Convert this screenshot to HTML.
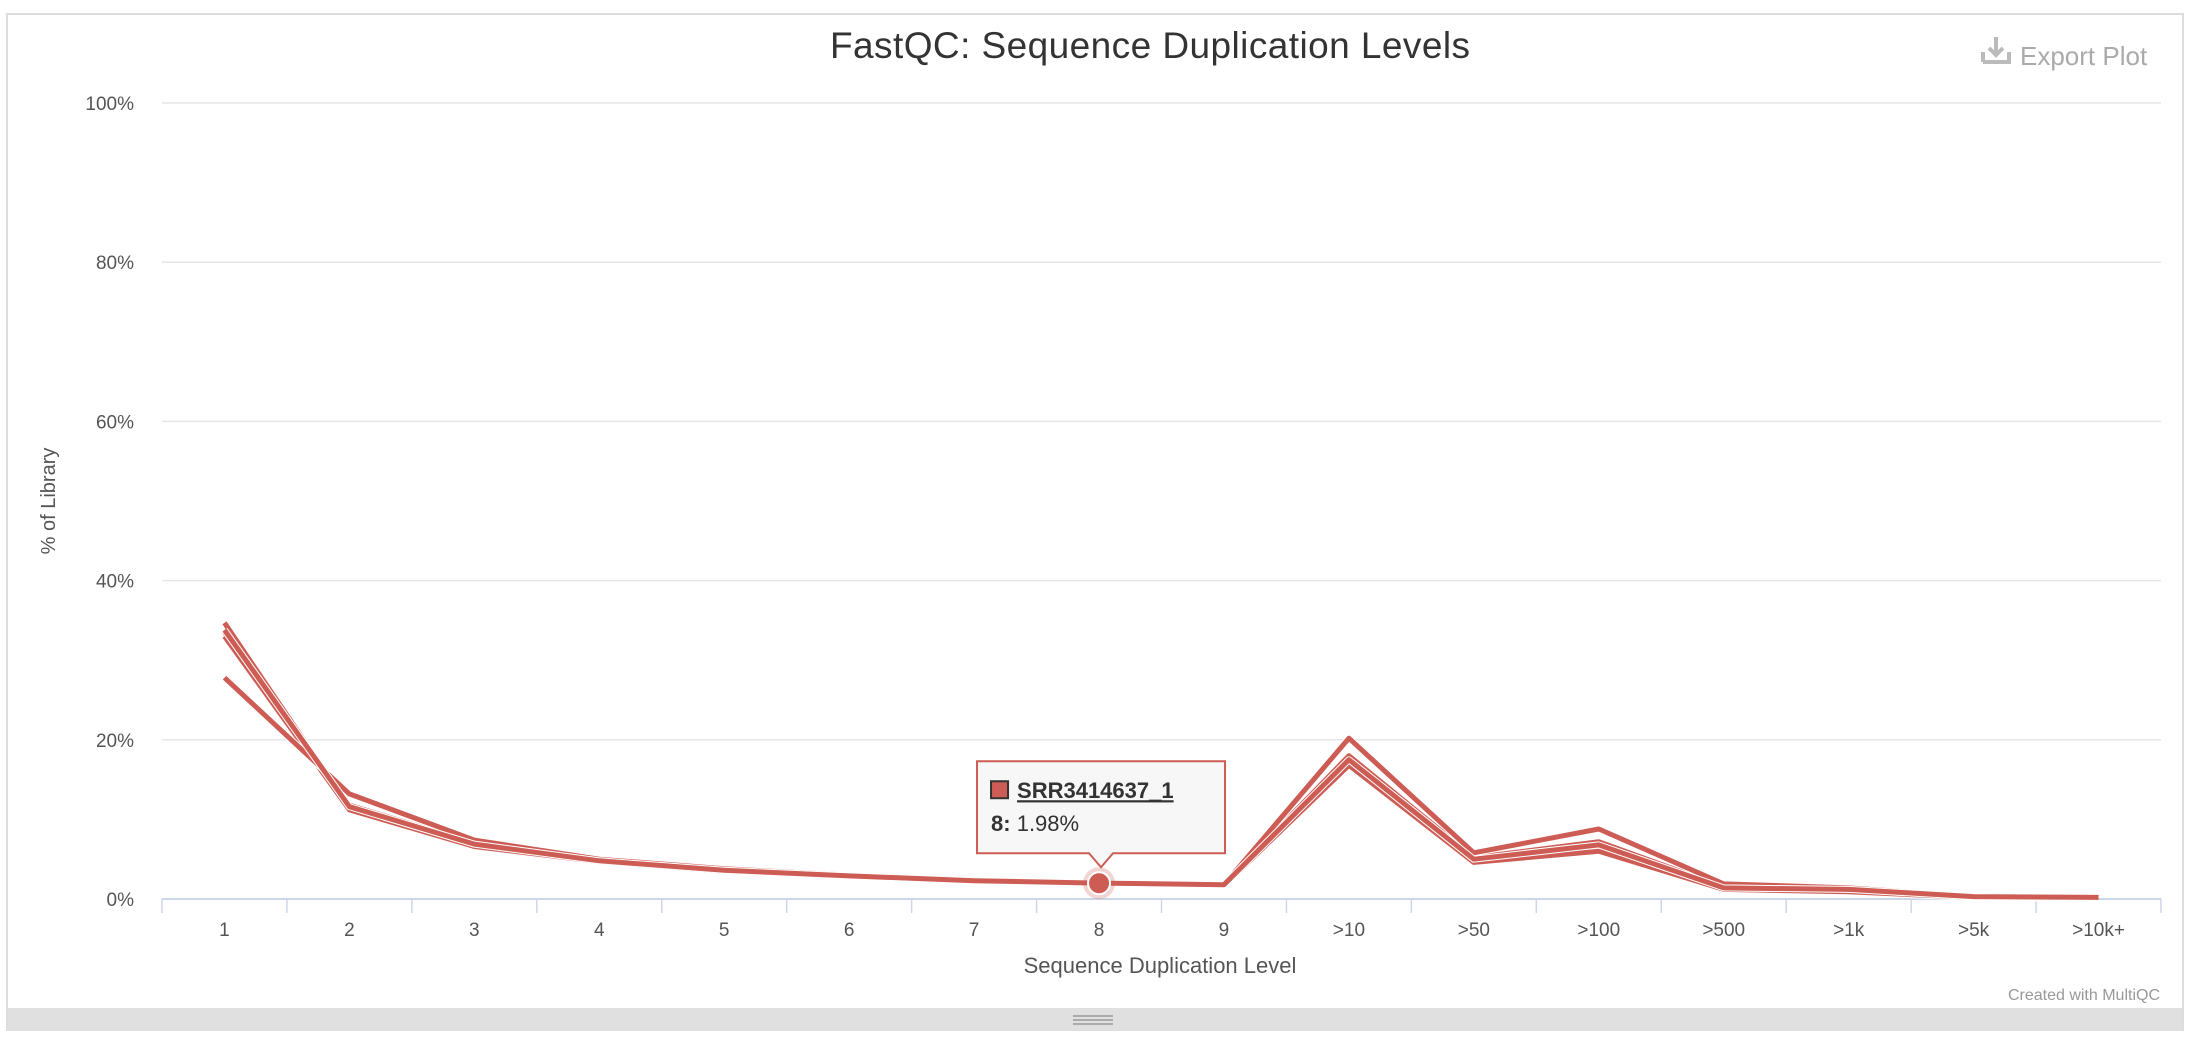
<!DOCTYPE html>
<html><head><meta charset="utf-8"><style>
body{margin:0;background:#fff;width:2190px;height:1044px;overflow:hidden;font-family:"Liberation Sans",sans-serif}
</style></head><body>
<svg width="2190" height="1044" viewBox="0 0 2190 1044">
<rect x="7" y="14" width="2176" height="1016" fill="#fff" stroke="#ddd" stroke-width="2"/>
<rect x="8" y="1008" width="2174" height="22" fill="#e0e0e0"/>
<g stroke="#999" stroke-width="1.5"><line x1="1073" y1="1016" x2="1113" y2="1016"/><line x1="1073" y1="1020" x2="1113" y2="1020"/><line x1="1073" y1="1024" x2="1113" y2="1024"/></g>
<text x="1150" y="58" text-anchor="middle" font-size="37" fill="#333" textLength="640">FastQC: Sequence Duplication Levels</text>
<g><path d="M1983 62h26v-10M1983 62v-10M1996 37v17M1989 48l7 7 7-7" stroke="#bbb" stroke-width="4" fill="none"/><text x="2020" y="65" font-size="26" fill="#aaa">Export Plot</text></g>
<text x="2160" y="1000" text-anchor="end" font-size="16" fill="#999">Created with MultiQC</text>
<g id="grid"></g><g id="axes"></g><g id="series"></g><g id="tip"></g>
<text transform="translate(55,501) rotate(-90)" text-anchor="middle" font-size="20" fill="#555">% of Library</text>
<text x="1160" y="973" text-anchor="middle" font-size="22" fill="#555">Sequence Duplication Level</text>
</svg>
<script>
const categories=["1","2","3","4","5","6","7","8","9",">10",">50",">100",">500",">1k",">5k",">10k+"];
const yTicks=[0,20,40,60,80,100];
const seriesNames=["SRR3414637_1","SRR3414637_2","SRR3414638_1","SRR3414638_2","SRR3414639_1"];
const s1=[34.7,11.5,6.8,4.8,3.6,2.9,2.3,1.98,1.8,17.2,4.8,6.2,1.3,1.0,0.3,0.2];
const s2=[33.5,11.8,7.0,4.9,3.7,3.0,2.4,2.0,1.8,18.0,5.2,7.2,1.5,1.1,0.3,0.2];
const s3=[33.0,11.2,6.6,4.7,3.5,2.9,2.3,1.9,1.7,16.8,4.6,6.0,1.2,0.9,0.2,0.1];
const s4=[27.8,13.2,7.4,5.0,3.8,3.0,2.4,2.0,1.8,20.2,5.8,8.8,1.9,1.4,0.3,0.2];
const s5=[33.8,11.6,6.9,4.8,3.6,2.9,2.3,2.0,1.8,17.5,5.0,6.8,1.4,1.2,0.3,0.2];
const NS="http://www.w3.org/2000/svg";
const L=162,R=2161,T=103,B=899;
const step=(R-L)/categories.length;
const x=i=>L+step*(i+0.5);
const y=v=>B-(v/100)*(B-T);
function mk(tag,attrs,parent){const e=document.createElementNS(NS,tag);for(const k in attrs)e.setAttribute(k,attrs[k]);document.getElementById(parent).appendChild(e);return e;}
yTicks.forEach(t=>{
 const g=mk('line',{x1:L,x2:R,y1:y(t),y2:y(t),stroke:t===0?'#ccd6eb':'#e6e6e6','stroke-width':t===0?2:1.5},'grid');
 
 
 const tx=mk('text',{x:L-28,y:y(t)+7,'text-anchor':'end','font-size':19,fill:'#555'},'axes');
 tx.textContent=t+'%';
 
 
});
for(let i=0;i<=categories.length;i++){
 const tk=mk('line',{x1:L+step*i,x2:L+step*i,y1:B,y2:B+14,stroke:'#ccd6eb','stroke-width':1.5},'axes');
 
 
}
categories.forEach((c,i)=>{
 const tx=mk('text',{x:x(i),y:B+37,'text-anchor':'middle','font-size':19,fill:'#555'},'axes');
 tx.textContent=c;
 
 
});
[s1,s2,s3,s4,s5].forEach((s,k)=>{
 const d=s.map((v,i)=>(i?'L':'M')+x(i).toFixed(1)+' '+y(v).toFixed(1)).join(' ');
 mk('path',{d:d,fill:'none',stroke:'#fff','stroke-width':7,'stroke-linejoin':'round'},'series');
 const p=mk('path',{d:d,fill:'none',stroke:'#cd5c54','stroke-width':5,'stroke-linejoin':'round'},'series');
 
 
});
const hi=7,hv=s1[hi],hx=x(hi),hy=y(hv);
mk('circle',{cx:hx,cy:hy,r:16,fill:'#cd5c54','fill-opacity':0.25},'tip');
const m=mk('circle',{cx:hx,cy:hy,r:11,fill:'#cd5c54',stroke:'#fff','stroke-width':2},'tip');


const bx=hx-122,by=hy-122;
const tb=mk('path',{d:`M${bx} ${by}h248v92h-112l-12 14-12-14h-112z`,fill:'#f7f7f7',stroke:'#cd5c54','stroke-width':2},'tip');


mk('rect',{x:bx+14,y:by+20,width:17,height:17,fill:'#cd5c54',stroke:'#333','stroke-width':2},'tip');
const t1=mk('text',{x:bx+40,y:by+37,'font-size':22,fill:'#333','text-decoration':'underline','font-weight':'bold'},'tip');
t1.textContent='SRR3414637_1';


const t2=mk('text',{x:bx+14,y:by+70,'font-size':22,fill:'#333'},'tip');
t2.innerHTML='<tspan font-weight="bold">'+categories[hi]+':</tspan> '+hv.toFixed(2)+'%';


</script>
</body></html>
